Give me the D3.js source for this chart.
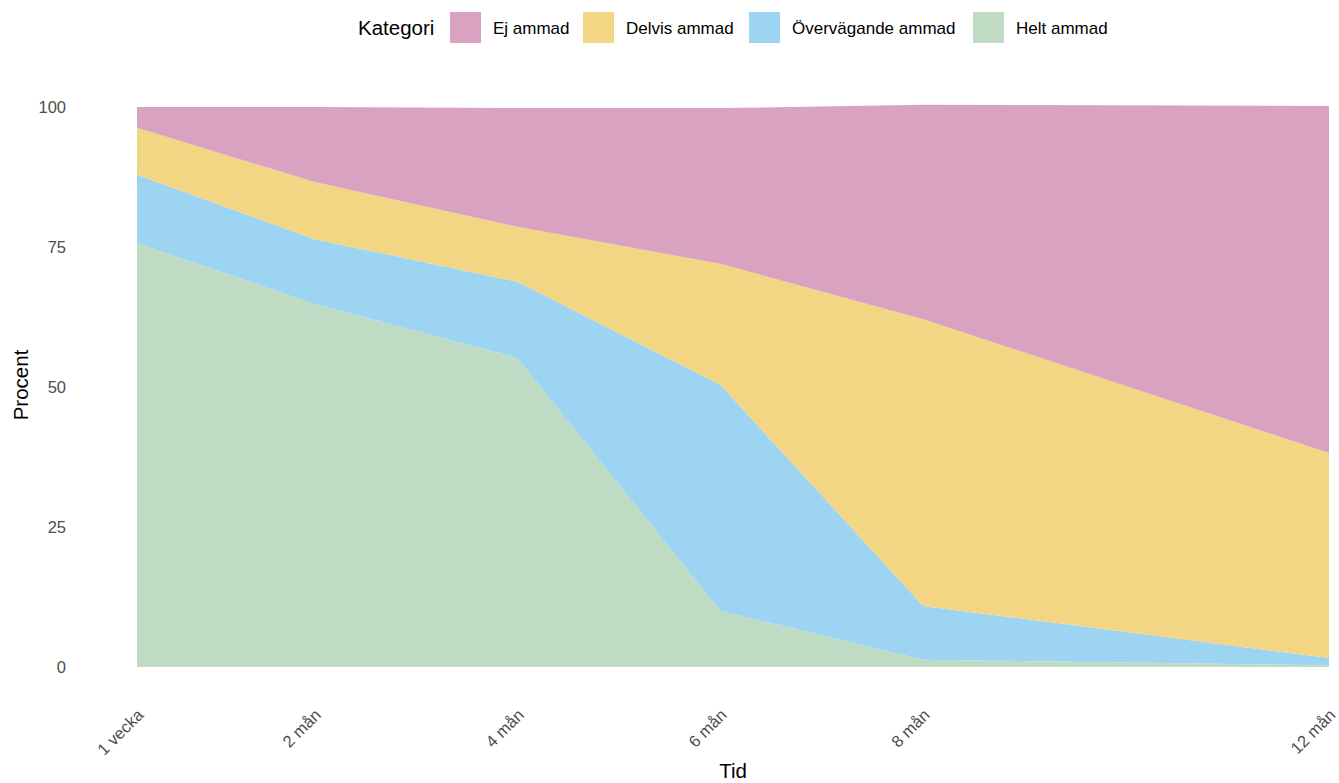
<!DOCTYPE html>
<html lang="sv">
<head>
<meta charset="UTF-8">
<title>Amning över tid</title>
<script src="https://d3js.org/d3.v7.min.js"></script>
<style>
  body { margin: 0; background: #fff; font-family: "Liberation Sans", Arial, sans-serif; }
  .tick-label { fill: #4d4d4d; font-size: 16.5px; }
  .axis-title { fill: #000; font-size: 20.5px; }
  .legend-label { fill: #000; font-size: 17px; }
</style>
</head>
<body>
<div id="chart"></div>
<script>
// tidpunkter (månader) och etiketter
const months = [0.25, 2, 4, 6, 8, 12];
const monthLabels = ["1 vecka", "2 mån", "4 mån", "6 mån", "8 mån", "12 mån"];
const categories = ["Helt ammad", "Övervägande ammad", "Delvis ammad", "Ej ammad"];
const legendOrder = ["Ej ammad", "Delvis ammad", "Övervägande ammad", "Helt ammad"];
const colors = ["#bfdbc4", "#9dd4f1", "#f2d684", "#d9a2c1"];

// procent per kategori och tidpunkt
const heltAmmad        = [75.7, 64.8, 55.2, 10.0, 1.3, 0.3];
const overvagandeAmmad = [12.2, 11.6, 13.6, 40.4, 9.6, 1.3];
const delvisAmmad      = [8.4, 10.2, 9.8, 21.6, 51.2, 36.6];
const ejAmmad          = [3.7, 13.4, 21.2, 27.8, 38.3, 62.0];
const yTicks = [0, 25, 50, 75, 100];

const W = 1339, H = 783;
const margin = { top: 107, right: 10, bottom: 116, left: 137 };

const rows = months.map((m, i) => ({
  month: m,
  "Helt ammad": heltAmmad[i],
  "Övervägande ammad": overvagandeAmmad[i],
  "Delvis ammad": delvisAmmad[i],
  "Ej ammad": ejAmmad[i]
}));

const svg = d3.select("#chart").append("svg")
  .attr("width", W).attr("height", H);

const x = d3.scaleLinear().domain([0.25, 12]).range([margin.left, W - margin.right]);
const y = d3.scaleLinear().domain([0, 100]).range([H - margin.bottom, margin.top]);

const series = d3.stack().keys(categories)(rows);
const color = d3.scaleOrdinal().domain(categories).range(colors);

const area = d3.area()
  .x(d => x(d.data.month))
  .y0(d => y(d[0]))
  .y1(d => y(d[1]));

svg.append("g").selectAll("path")
  .data(series)
  .join("path")
  .attr("fill", d => color(d.key))
  .attr("d", area);

// y-axel
const yAxis = svg.append("g")
  .attr("transform", "translate(66,0)")
  .call(d3.axisLeft(y).tickValues(yTicks).tickSize(0).tickPadding(0));
yAxis.select(".domain").remove();
yAxis.selectAll("text").attr("class", "tick-label").attr("x", 0).attr("dy", "0.35em");

// x-axel
const xAxis = svg.append("g")
  .attr("transform", `translate(0,${H - margin.bottom})`)
  .call(d3.axisBottom(x).tickValues(months).tickFormat((d, i) => monthLabels[i]).tickSize(0));
xAxis.select(".domain").remove();
xAxis.selectAll("text")
  .attr("class", "tick-label")
  .attr("text-anchor", "end")
  .attr("x", 0).attr("y", 0).attr("dy", 0)
  .attr("transform", "translate(7,49) rotate(-45)");

// axeltitlar
svg.append("text").attr("class", "axis-title")
  .attr("x", 733).attr("y", 778)
  .attr("text-anchor", "middle").text("Tid");
svg.append("text").attr("class", "axis-title")
  .attr("transform", "translate(28,385) rotate(-90)")
  .attr("text-anchor", "middle").text("Procent");

// legend
const legend = svg.append("g");
legend.append("text").attr("class", "axis-title")
  .attr("x", 358).attr("y", 35).text("Kategori");
const legendX = [450, 583, 749, 973];
legendOrder.forEach((k, i) => {
  legend.append("rect")
    .attr("x", legendX[i]).attr("y", 12)
    .attr("width", 31).attr("height", 31)
    .attr("fill", color(k));
  legend.append("text").attr("class", "legend-label")
    .attr("x", legendX[i] + 43).attr("y", 34).text(k);
});
</script>
</body>
</html>
